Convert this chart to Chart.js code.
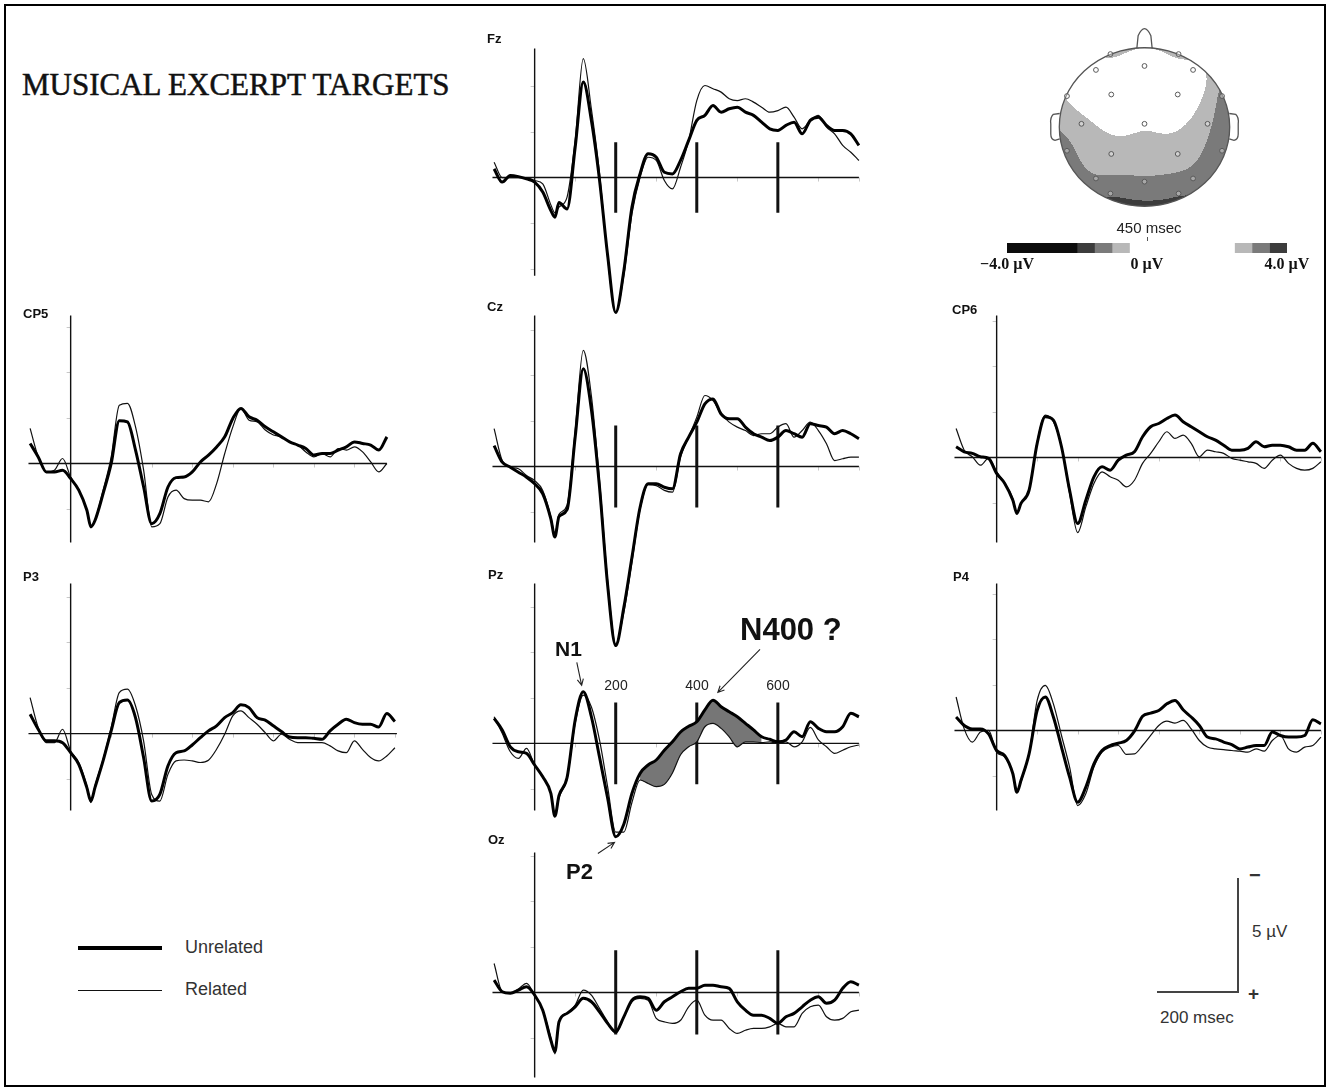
<!DOCTYPE html>
<html>
<head>
<meta charset="utf-8">
<title>Musical excerpt targets</title>
<script src="https://cdn.jsdelivr.net/npm/chart.js@4.4.1/dist/chart.umd.min.js"></script>
<style>
  html, body { margin: 0; padding: 0; background: #fff; }
  #fig { position: relative; width: 1330px; height: 1089px; overflow: hidden; font-family: Arial, "Liberation Sans", sans-serif; color: #111; }
  #fig canvas { position: absolute; }
  .frame { position: absolute; left: 4px; top: 4px; width: 1318px; height: 1079px; border: 2px solid #000; }
  .txt { position: absolute; white-space: nowrap; line-height: 1; }
  .rule { position: absolute; }
</style>
</head>
<body>
<div id="fig"><div class="frame"></div></div>
<script>
// --- Dados: amplitude em µV (negativo desenhado para cima), tempo em ms ---
const timesMs = [-100,-80,-60,-40,-20,0,20,40,50,60,80,100,120,140,160,180,200,220,240,260,280,300,320,340,360,380,400,420,440,460,480,500,520,540,560,580,600,620,640,660,680,700,720,740,760,780,800];

const fzUnrelated = [-0.38,0.2,-0.09,-0.04,0.06,0.2, 0.64,1.45,1.74,1.1,1.38,-1.33,-4.19,-2.5,0.1,3.4,5.93, 4.1,1.3,-0.16,-1.04,-0.89,-0.23,-0.16,-0.75,-1.63,-2.51, -2.73,-3.16,-2.87,-3.02,-3.09,-2.87,-2.73,-2.43,-2.14,-2.07, -2.29,-2.43,-1.92,-2.51,-2.65,-2.29,-2.07,-2.07,-1.92,-1.41];
const fzRelated   = [-0.67,0,0,0,0,0.13, 0.28,1.2,1.55,1.3,0.86,-1.63,-5.22,-3.0,-0.2,3.5,5.93, 4.3,1.6,0,-0.89,-0.75,0.13,0.5,-0.45,-1.63,-3.38, -4.04,-3.9,-3.75,-3.46,-3.38,-3.46,-3.31,-3.09,-2.87,-2.94, -3.09,-2.65,-2.14,-2.51,-2.73,-2.21,-1.92,-1.41,-1.11,-0.75];

const czUnrelated = [-0.92,-0.19,0.03,0.25,0.47,0.76, 1.2,2.3,3.1,2.2,1.9,-1.29,-4.29,-2.5,0.9,5.2,7.87, 6.2,4.0,1.8,0.76,0.76,0.91,0.98,-0.56,-1.29,-1.95, -2.75,-2.97,-2.31,-2.1,-2.1,-1.73,-1.44,-1.29,-1.14,-1.29, -1.58,-1.44,-1.29,-1.88,-1.8,-1.73,-1.44,-1.58,-1.44,-1.22];
const czRelated   = [-1.66,-0.26,0.03,0.1,0.4,0.62, 1.05,2.2,3.0,2.1,1.7,-1.58,-5.1,-3.1,0.6,5.0,7.79, 6.4,4.2,1.9,0.8,0.84,1.05,1.13,-0.41,-1.29,-2.17, -3.12,-2.9,-2.31,-1.95,-1.73,-1.58,-1.36,-1.44,-1.44,-1.73, -1.88,-1.29,-1.58,-1.95,-1.58,-1.0,-0.26,-0.34,-0.41,-0.41];

const pzUnrelated = [-1.1,-0.59,0.15,0.37,0.44,0.95, 1.47,2.2,3.2,2.3,1.5,-1.03,-2.27,-1.17,0.6,2.4,4.1, 3.55,2.2,1.32,0.95,0.73,0.3,-0.07,-0.5,-0.75,-0.95, -1.47,-1.9,-1.61,-1.39,-1.17,-0.88,-0.59,-0.29,-0.18,-0.07, -0.15,-0.51,-0.29,-0.95,-0.66,-0.51,-0.51,-0.73,-1.32,-1.17];
const pzRelated   = [-1.17,-0.44,0.37,0.66,0.22,0.95, 1.47,2.2,3.2,2.4,1.55,-0.88,-2.12,-1.6,-0.15,1.9,3.9, 3.9,2.6,1.61,1.76,1.9,1.8,1.3,0.5,0.15,-0.07, -0.73,-0.88,-0.66,-0.29,0.15,-0.07,-0.07,-0.03,-0.07,0, -0.07,0.15,-0.07,-0.7,-0.15,0.15,0.44,0.3,0.15,0.07];

const ozUnrelated = [-0.54,-0.03,0.04,-0.1,-0.25,0.12, 0.78,2.1,2.6,1.3,0.92,0.63,0.26,0.41,0.85,1.36,1.73, 1.07,0.34,0.19,0.26,0.78,0.41,0.19,-0.03,-0.18,-0.18, -0.32,-0.32,-0.25,-0.18,0.41,0.78,1.0,1.0,1.14,1.36, 1.07,0.92,0.63,0.34,0.19,0.48,0.34,-0.18,-0.47,-0.32];
const ozRelated   = [-1.27,-0.03,0.04,-0.15,-0.4,0.12, 0.78,2.0,2.7,1.3,0.92,0.56,-0.1,0.12,0.7,1.29,1.8, 1.07,0.41,0.26,0.34,1.14,1.29,1.36,1.22,0.63,0.34, 1.0,1.22,1.22,1.58,1.8,1.66,1.58,1.58,1.51,1.36, 1.51,1.51,0.92,0.63,0.56,1.07,1.22,1.14,0.85,0.78];

// CP5 termina em 780 ms
const cp5Unrelated = [-0.88,-0.29,0.37,0.37,0.29,0.66, 1.17,2.05,2.78,2.5,1.32,0,-1.88,-1.83,-0.59,1.03,2.64, 2.2,1.03,0.62,0.59,0.37,-0.07,-0.37,-0.73,-1.17,-1.98, -2.42,-2.05,-1.9,-1.61,-1.39,-1.17,-0.95,-0.81,-0.66,-0.37, -0.44,-0.44,-0.59,-0.73,-0.95,-0.88,-0.81,-0.59,-1.17];
const cp5Related   = [-1.54,-0.29,0.37,0.29,-0.22,0.59, 1.17,2.05,2.8,2.5,1.17,-0.29,-2.56,-2.64,-1.61,0.29,2.78, 2.64,1.47,1.17,1.54,1.61,1.61,1.68,0.88,-0.44,-1.61, -2.42,-1.9,-1.83,-1.47,-1.25,-1.17,-0.95,-0.81,-0.51,-0.29, -0.44,-0.29,-0.66,-0.59,-0.73,-0.51,-0.07,0.37,0];

const cp6Unrelated = [-0.47,-0.25,-0.18,-0.03,0.04,0.7, 1.14,1.88,2.46,2.02,1.44,-0.62,-1.79,-1.64,-0.47,1.44,2.9, 1.88,0.85,0.41,0.56,0.12,-0.1,-0.25,-0.91,-1.35,-1.49, -1.71,-1.86,-1.57,-1.35,-1.13,-0.91,-0.76,-0.54,-0.32,-0.32, -0.4,-0.69,-0.47,-0.54,-0.54,-0.47,-0.32,-0.32,-0.62,-0.25];
const cp6Related   = [-1.27,-0.32,-0.03,0.34,0.04,0.63, 1.14,1.8,2.46,2.02,1.44,-0.69,-1.86,-1.57,-0.47,1.58,3.3, 2.17,1.14,0.63,0.85,1.0,1.29,1.0,0.26,-0.18,-0.69, -1.13,-0.84,-0.98,-0.62,-0.03,-0.32,-0.25,-0.18,0.04,0.12, 0.19,0.26,0.48,0.12,-0.1,0.26,0.48,0.56,0.48,0.19];

const p3Unrelated = [-0.85,-0.19,0.32,0.32,0.4,0.84, 1.35,2.37,2.96,2.37,1.2,-0.12,-1.36,-1.47,-0.7,1.05,2.96, 2.67,1.42,0.84,0.76,0.5,0.18,-0.12,-0.34,-0.7,-0.92, -1.26,-1.14,-0.7,-0.59,-0.34,-0.09,0.15,0.18,0.18,0.21, 0.25,-0.12,-0.41,-0.63,-0.48,-0.41,-0.41,-0.29,-0.88,-0.53];
const p3Related   = [-1.58,-0.26,0.4,0.4,-0.19,0.76, 1.27,2.3,3.03,2.3,1.13,-0.26,-1.8,-1.95,-1.22,0.32,2.67, 2.96,1.79,1.2,1.16,1.2,1.27,1.17,0.69,0.03,-0.78, -1.0,-0.7,-0.41,-0.04,0.32,0.03,0.25,0.4,0.4,0.4, 0.4,0.54,0.76,0.84,0.32,0.69,1.05,1.2,0.98,0.62];

const p4Unrelated = [-0.59,-0.22,-0.07,-0.07,0.15,0.88, 1.1,1.9,2.71,2.2,1.03,-0.88,-1.47,-0.59,0.73,2.05,3.15, 2.49,1.47,0.88,0.66,0.56,0.44,0.03,-0.62,-0.76,-0.88, -1.17,-1.32,-0.91,-0.59,-0.22,0.29,0.37,0.51,0.62,0.81, 0.73,0.66,0.66,0.07,0.22,0.29,0.29,0.22,-0.47,-0.29];
const p4Related   = [-1.47,-0.07,0.51,0.07,0,0.95, 1.17,1.9,2.64,2.27,1.03,-1.32,-1.98,-1.17,0.22,1.61,3.3, 2.78,1.61,0.95,0.73,0.66,1.05,1.03,0.66,0.22,-0.22, -0.41,-0.32,-0.44,-0.07,0.44,0.73,0.81,0.84,0.88,0.91, 0.95,0.81,0.91,0.44,0.22,0.81,0.95,0.73,0.66,0.29];

// marcadores de latência e janela sombreada do N400 (Pz)
const markerMs = [200, 400, 600];
const n400Window = [260, 560];

// mapa topográfico a 450 ms (diferença, µV)
const electrodeX = [-0.40,0.40,-0.57,0,0.57,-0.91,-0.39,0.39,0.91,-0.74,0,0.74,-0.91,-0.39,0.39,0.91,-0.57,0,0.57,-0.40,0.40];
const electrodeY = [0.92,0.92,0.72,0.77,0.72,0.39,0.41,0.41,0.39,0.04,0.04,0.04,-0.30,-0.34,-0.34,-0.30,-0.65,-0.69,-0.65,-0.84,-0.84];
const diff450    = [-0.75,-0.75,0.2,0.4,-0.15,-0.45,0.3,0.1,-1.15,-0.7,-0.42,-0.9,-1.1,-0.68,-0.72,-1.35,-1.05,-1.1,-1.2,-1.45,-1.45];

// escala de cores
const cbarBounds = [-4, -2, -1.5, -1, -0.5, 2.5, 3, 3.5, 4];
const cbarColors = ['#0c0c0c', '#3c3c3c', '#7a7a7a', '#b8b8b8', '#ffffff', '#b8b8b8', '#7a7a7a', '#3c3c3c'];
const cbarTicks = [-4, 0, 4];
const cbarTickLabels = ['\u22124.0 \u00b5V', '0 \u00b5V', '4.0 \u00b5V'];

// --- Geometria ---
const PX_PER_MS = 0.405;
const PX_PER_UV = 22.75;
const fig = document.getElementById('fig');

const panels = [
  { name: 'Fz',  axisX: 535, baseY: 177, axisTop: -5.67, axisBottom: 4.31, tEnd: 800, labelX: 487, labelBase: 42,  unrelated: fzUnrelated,  related: fzRelated,  markers: true, markerHalf: 1.55 },
  { name: 'Cz',  axisX: 535, baseY: 466, axisTop: -6.64, axisBottom: 3.34, tEnd: 800, labelX: 487, labelBase: 310, unrelated: czUnrelated,  related: czRelated,  markers: true, markerHalf: 1.8 },
  { name: 'Pz',  axisX: 535, baseY: 743, axisTop: -7.03, axisBottom: 2.95, tEnd: 800, labelX: 488, labelBase: 578, unrelated: pzUnrelated,  related: pzRelated,  markers: true, markerHalf: 1.8, shade: true },
  { name: 'Oz',  axisX: 535, baseY: 992, axisTop: -6.15, axisBottom: 3.74, tEnd: 800, labelX: 488, labelBase: 843, unrelated: ozUnrelated,  related: ozRelated,  markers: true, markerHalf: 1.85 },
  { name: 'CP5', axisX: 71,  baseY: 463, axisTop: -6.5,  axisBottom: 3.47, tEnd: 780, labelX: 23,  labelBase: 317, unrelated: cp5Unrelated, related: cp5Related },
  { name: 'CP6', axisX: 997, baseY: 457, axisTop: -6.24, axisBottom: 3.74, tEnd: 800, labelX: 952, labelBase: 313, unrelated: cp6Unrelated, related: cp6Related },
  { name: 'P3',  axisX: 71,  baseY: 733, axisTop: -6.59, axisBottom: 3.38, tEnd: 805, labelX: 23,  labelBase: 580, unrelated: p3Unrelated,  related: p3Related },
  { name: 'P4',  axisX: 997, baseY: 730, axisTop: -6.46, axisBottom: 3.52, tEnd: 800, labelX: 953, labelBase: 580, unrelated: p4Unrelated,  related: p4Related }
];

// setas das anotações em Pz (ms, µV)
const pzArrows = [
  { from: [104, -3.56], to: [116, -2.55] },
  { from: [556, -4.13], to: [452, -2.24] },
  { from: [156, 4.84], to: [197, 4.35] }
];

function addText(str, left, top, css) {
  const d = document.createElement('div');
  d.className = 'txt';
  d.textContent = str;
  d.style.left = left + 'px';
  d.style.top = top + 'px';
  Object.assign(d.style, css || {});
  fig.appendChild(d);
  return d;
}

function addRule(left, top, w, h, color) {
  const d = document.createElement('div');
  d.className = 'rule';
  Object.assign(d.style, { left: left + 'px', top: top + 'px', width: w + 'px', height: h + 'px', background: color });
  fig.appendChild(d);
}

function toPoints(values) {
  return values.map((v, i) => ({ x: timesMs[i], y: v }));
}

// --- Plugin: eixos, marcas e marcadores de latência ---
const erpFrame = {
  id: 'erpFrame',
  beforeDatasetsDraw(chart, args, o) {
    const { ctx, scales: { x, y } } = chart;
    const x0 = x.getPixelForValue(0), y0 = y.getPixelForValue(0);
    ctx.save();
    ctx.strokeStyle = '#c8c8c8';
    ctx.lineWidth = 1;
    ctx.beginPath();
    for (let v = -6; v <= 4; v += 2) {
      if (v === 0 || v < o.axisTop || v > o.axisBottom) continue;
      const py = Math.round(y.getPixelForValue(v)) + 0.5;
      ctx.moveTo(x0 - 4, py); ctx.lineTo(x0, py);
    }
    for (let t = 100; t <= o.tEnd; t += 100) {
      const px = Math.round(x.getPixelForValue(t)) + 0.5;
      ctx.moveTo(px, y0); ctx.lineTo(px, y0 + 4);
    }
    ctx.stroke();

    ctx.strokeStyle = '#111';
    ctx.lineWidth = 1.4;
    ctx.beginPath();
    ctx.moveTo(x0, y.getPixelForValue(o.axisTop));
    ctx.lineTo(x0, y.getPixelForValue(o.axisBottom));
    ctx.moveTo(x.getPixelForValue(-104), y0);
    ctx.lineTo(x.getPixelForValue(o.tEnd), y0);
    ctx.stroke();

    if (o.markers) {
      ctx.lineWidth = 3;
      ctx.beginPath();
      markerMs.forEach(t => {
        const px = x.getPixelForValue(t);
        ctx.moveTo(px, y.getPixelForValue(-o.markerHalf));
        ctx.lineTo(px, y.getPixelForValue(o.markerHalf));
      });
      ctx.stroke();
    }
    ctx.restore();
  }
};

// --- Plugin: setas das anotações ---
const arrowNotes = {
  id: 'arrowNotes',
  afterDatasetsDraw(chart, args, o) {
    if (!o.arrows) return;
    const { ctx, scales: { x, y } } = chart;
    ctx.save();
    ctx.strokeStyle = '#222';
    ctx.lineWidth = 1.1;
    o.arrows.forEach(a => {
      const x1 = x.getPixelForValue(a.from[0]), y1 = y.getPixelForValue(a.from[1]);
      const x2 = x.getPixelForValue(a.to[0]), y2 = y.getPixelForValue(a.to[1]);
      const ang = Math.atan2(y2 - y1, x2 - x1);
      ctx.beginPath();
      ctx.moveTo(x1, y1); ctx.lineTo(x2, y2);
      ctx.moveTo(x2 - 7 * Math.cos(ang - 0.45), y2 - 7 * Math.sin(ang - 0.45));
      ctx.lineTo(x2, y2);
      ctx.lineTo(x2 - 7 * Math.cos(ang + 0.45), y2 - 7 * Math.sin(ang + 0.45));
      ctx.stroke();
    });
    ctx.restore();
  }
};

function makeErpChart(p) {
  const all = p.unrelated.concat(p.related);
  let vMin = Math.min(p.axisTop, ...all) - 0.5;
  let vMax = Math.max(p.axisBottom, ...all) + 0.5;
  if (p.shade) { vMin = Math.min(vMin, -4.6); vMax = Math.max(vMax, 5.3); }
  const xMin = -120, xMax = p.tEnd + 15;
  const c = document.createElement('canvas');
  c.width = Math.round((xMax - xMin) * PX_PER_MS);
  c.height = Math.round((vMax - vMin) * PX_PER_UV);
  c.style.left = (p.axisX + xMin * PX_PER_MS) + 'px';
  c.style.top = (p.baseY + vMin * PX_PER_UV) + 'px';
  fig.appendChild(c);

  const datasets = [
    { label: 'Unrelated', data: toPoints(p.unrelated), borderColor: '#000', borderWidth: 3, fill: false },
    { label: 'Related', data: toPoints(p.related), borderColor: '#111', borderWidth: 1.2, fill: false }
  ];
  if (p.shade) {
    const inWin = d => d.x >= n400Window[0] && d.x <= n400Window[1];
    datasets.push(
      { label: 'N400 area', data: toPoints(p.unrelated).filter(inWin), borderWidth: 0, borderColor: 'rgba(0,0,0,0)', backgroundColor: '#767676', fill: '+1' },
      { label: 'N400 base', data: toPoints(p.related).filter(inWin), borderWidth: 0, borderColor: 'rgba(0,0,0,0)', fill: false }
    );
  }

  const chart = new Chart(c.getContext('2d'), {
    type: 'line',
    data: { datasets },
    options: {
      responsive: false,
      animation: false,
      events: [],
      layout: { padding: 0 },
      elements: { point: { radius: 0 }, line: { cubicInterpolationMode: 'monotone' } },
      plugins: {
        legend: { display: false },
        tooltip: { enabled: false },
        erpFrame: { axisTop: p.axisTop, axisBottom: p.axisBottom, tEnd: p.tEnd, markers: !!p.markers, markerHalf: p.markerHalf },
        arrowNotes: { arrows: p.shade ? pzArrows : null }
      },
      scales: {
        x: { type: 'linear', min: xMin, max: xMax, display: false },
        y: { type: 'linear', min: vMin, max: vMax, reverse: true, display: false }
      }
    },
    plugins: [erpFrame, arrowNotes]
  });

  addText(p.name, p.labelX, p.labelBase - 11, { font: 'bold 13px "Liberation Sans", Arial, sans-serif' });
  return chart;
}

const charts = panels.map(makeErpChart);

// rótulos de latência em Pz
const pzPanel = panels[2];
markerMs.forEach(t => {
  const d = addText(String(t), pzPanel.axisX + t * PX_PER_MS, 678, { fontSize: '14px', color: '#222' });
  d.style.transform = 'translateX(-50%)';
});
addText('N1', 555, 637, { font: 'bold 21px Arial, sans-serif' });
addText('N400 ?', 740, 612, { font: 'bold 31px Arial, sans-serif' });
addText('P2', 566, 859, { font: 'bold 22px Arial, sans-serif' });

// título
addText('MUSICAL EXCERPT TARGETS', 22, 67, { font: '31px "Liberation Serif", "Times New Roman", serif', color: '#111', webkitTextStroke: '0.5px #111' });

// --- Mapa topográfico: interpolação thin-plate spline ---
function solveLinear(A, b) {
  const n = b.length;
  for (let c = 0; c < n; c++) {
    let piv = c;
    for (let r = c + 1; r < n; r++) if (Math.abs(A[r][c]) > Math.abs(A[piv][c])) piv = r;
    [A[c], A[piv]] = [A[piv], A[c]];
    [b[c], b[piv]] = [b[piv], b[c]];
    for (let r = c + 1; r < n; r++) {
      const f = A[r][c] / A[c][c];
      for (let k = c; k < n; k++) A[r][k] -= f * A[c][k];
      b[r] -= f * b[c];
    }
  }
  const x = new Array(n).fill(0);
  for (let r = n - 1; r >= 0; r--) {
    let s = b[r];
    for (let k = r + 1; k < n; k++) s -= A[r][k] * x[k];
    x[r] = s / A[r][r];
  }
  return x;
}
const tpsU = r => (r > 1e-9 ? r * r * Math.log(r) : 0);
const topoInterp = (function () {
  const n = electrodeX.length, N = n + 3, lambda = 0.01;
  const A = Array.from({ length: N }, () => new Array(N).fill(0));
  const b = new Array(N).fill(0);
  for (let i = 0; i < n; i++) {
    for (let j = 0; j < n; j++) {
      A[i][j] = tpsU(Math.hypot(electrodeX[i] - electrodeX[j], electrodeY[i] - electrodeY[j])) + (i === j ? lambda : 0);
    }
    A[i][n] = 1; A[i][n + 1] = electrodeX[i]; A[i][n + 2] = electrodeY[i];
    A[n][i] = 1; A[n + 1][i] = electrodeX[i]; A[n + 2][i] = electrodeY[i];
    b[i] = diff450[i];
  }
  const w = solveLinear(A, b);
  return (px, py) => {
    let s = w[n] + w[n + 1] * px + w[n + 2] * py;
    for (let i = 0; i < n; i++) s += w[i] * tpsU(Math.hypot(px - electrodeX[i], py - electrodeY[i]));
    return s;
  };
})();
function levelIndex(v) {
  for (let i = 0; i < cbarColors.length; i++) if (v < cbarBounds[i + 1]) return i;
  return cbarColors.length - 1;
}
function hexRgb(h) { return [1, 3, 5].map(k => parseInt(h.substr(k, 2), 16)); }
const levelRgb = cbarColors.map(hexRgb);

const topoField = {
  id: 'topoField',
  beforeDatasetsDraw(chart) {
    const { ctx, chartArea: a, scales: { x, y } } = chart;
    const w = Math.round(a.right - a.left), h = Math.round(a.bottom - a.top);
    const off = document.createElement('canvas');
    off.width = w; off.height = h;
    const octx = off.getContext('2d');
    const img = octx.createImageData(w, h);
    for (let j = 0; j < h; j++) {
      const vy = y.getValueForPixel(a.top + j + 0.5);
      for (let i = 0; i < w; i++) {
        const vx = x.getValueForPixel(a.left + i + 0.5);
        const rgb = levelRgb[levelIndex(topoInterp(vx, vy))];
        const k = (j * w + i) * 4;
        img.data[k] = rgb[0]; img.data[k + 1] = rgb[1]; img.data[k + 2] = rgb[2]; img.data[k + 3] = 255;
      }
    }
    octx.putImageData(img, 0, 0);
    const cx = x.getPixelForValue(0), cy = y.getPixelForValue(0);
    const rx = x.getPixelForValue(1) - cx, ry = cy - y.getPixelForValue(1);
    ctx.save();
    ctx.beginPath();
    ctx.ellipse(cx, cy, rx, ry, 0, 0, Math.PI * 2);
    ctx.clip();
    ctx.drawImage(off, a.left, a.top);
    ctx.restore();

    ctx.save();
    ctx.strokeStyle = '#555';
    ctx.lineWidth = 1.3;
    ctx.beginPath();
    ctx.ellipse(cx, cy, rx, ry, 0, 0, Math.PI * 2);
    ctx.stroke();
    const P = (vx, vy) => [x.getPixelForValue(vx), y.getPixelForValue(vy)];
    // nariz
    ctx.beginPath();
    ctx.moveTo(...P(-0.09, 0.99));
    ctx.lineTo(...P(-0.075, 1.15));
    ctx.quadraticCurveTo(...P(0, 1.33), ...P(0.075, 1.15));
    ctx.lineTo(...P(0.09, 0.99));
    ctx.stroke();
    // orelhas
    [-1, 1].forEach(s => {
      ctx.beginPath();
      ctx.moveTo(...P(s * 0.995, 0.17));
      ctx.lineTo(...P(s * 1.07, 0.16));
      ctx.quadraticCurveTo(...P(s * 1.11, 0.12), ...P(s * 1.1, 0.04));
      ctx.lineTo(...P(s * 1.1, -0.09));
      ctx.quadraticCurveTo(...P(s * 1.1, -0.16), ...P(s * 1.05, -0.17));
      ctx.lineTo(...P(s * 0.995, -0.15));
      ctx.stroke();
    });
    ctx.restore();
  }
};

(function makeTopo() {
  const c = document.createElement('canvas');
  c.width = 223; c.height = 220;
  c.style.left = (1144 - 1.25 * 89) + 'px';
  c.style.top = (127 - 1.35 * 83) + 'px';
  fig.appendChild(c);
  new Chart(c.getContext('2d'), {
    type: 'scatter',
    data: {
      datasets: [{
        label: 'Electrodes',
        data: electrodeX.map((ex, i) => ({ x: ex, y: electrodeY[i] })),
        pointRadius: 2.4,
        pointBorderWidth: 1,
        pointBorderColor: '#5a5a5a',
        pointBackgroundColor: 'rgba(255,255,255,0.35)'
      }]
    },
    options: {
      responsive: false, animation: false, events: [],
      layout: { padding: 0 },
      plugins: { legend: { display: false }, tooltip: { enabled: false } },
      scales: {
        x: { type: 'linear', min: -1.25, max: 1.25, display: false },
        y: { type: 'linear', min: -1.3, max: 1.35, display: false }
      }
    },
    plugins: [topoField]
  });
  const d = addText('450 msec', 1149, 220, { fontSize: '15px', color: '#222' });
  d.style.transform = 'translateX(-50%)';
})();

// --- Barra de cores ---
(function makeColorbar() {
  const c = document.createElement('canvas');
  c.width = 280; c.height = 10;
  c.style.left = '1007px';
  c.style.top = '243px';
  fig.appendChild(c);
  const chart = new Chart(c.getContext('2d'), {
    type: 'bar',
    data: {
      labels: ['\u00b5V'],
      datasets: cbarColors.map((col, i) => ({
        label: String(cbarBounds[i]),
        data: [[cbarBounds[i], cbarBounds[i + 1]]],
        backgroundColor: col,
        borderWidth: 0,
        barPercentage: 1,
        categoryPercentage: 1,
        grouped: false
      }))
    },
    options: {
      indexAxis: 'y',
      responsive: false, animation: false, events: [],
      layout: { padding: 0 },
      plugins: { legend: { display: false }, tooltip: { enabled: false } },
      scales: {
        x: { type: 'linear', min: -4, max: 4, display: false },
        y: { display: false }
      }
    }
  });
  cbarTicks.forEach((v, i) => {
    const px = 1007 + chart.scales.x.getPixelForValue(v);
    const d = addText(cbarTickLabels[i], px, 255, { font: 'bold 16px "Liberation Serif", "Times New Roman", serif' });
    d.style.transform = 'translateX(-50%)';
  });
  addRule(1007 + chart.scales.x.getPixelForValue(0) - 0.5, 237, 1, 4, '#555');
})();

// --- Legenda ---
addRule(78, 946, 84, 4, '#000');
addRule(78, 990, 84, 1, '#111');
addText('Unrelated', 185, 938, { fontSize: '18px', color: '#333' });
addText('Related', 185, 980, { fontSize: '18px', color: '#333' });

// --- Barra de escala ---
const SCALE_MS = 200, SCALE_UV = 5;
const sbRight = 1238, sbBottom = 992;
addRule(sbRight - 1, sbBottom - SCALE_UV * PX_PER_UV, 2, SCALE_UV * PX_PER_UV + 1, '#444');
addRule(sbRight - SCALE_MS * PX_PER_MS, sbBottom - 1, SCALE_MS * PX_PER_MS, 2, '#444');
addText('\u2212', 1249, 864, { font: 'bold 20px Arial, sans-serif', color: '#333' });
addText('5 \u00b5V', 1252, 923, { fontSize: '17px', color: '#333' });
addText('+', 1248, 983, { font: 'bold 19px Arial, sans-serif', color: '#333' });
addText('200 msec', 1160, 1009, { fontSize: '17px', color: '#333' });
</script>
</body>
</html>
